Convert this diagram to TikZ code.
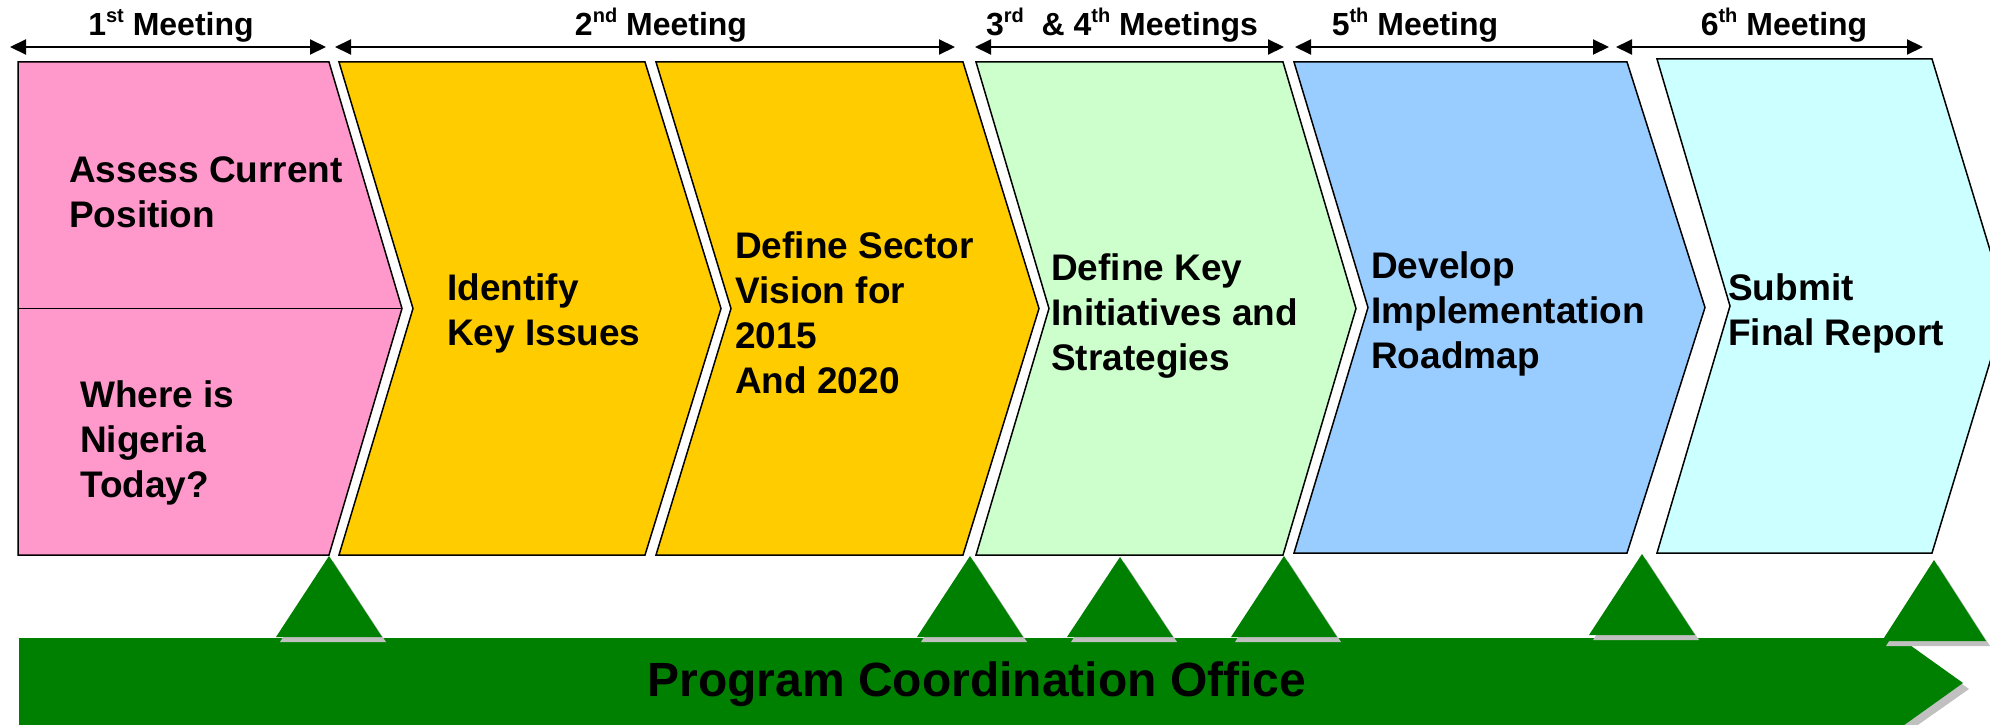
\documentclass[tikz,border=0pt]{standalone}
\usepackage{fontspec}
\setmainfont{Liberation Sans}
\usetikzlibrary{arrows.meta}
\definecolor{cpink}{HTML}{FF99CC}
\definecolor{cyellow}{HTML}{FFCC00}
\definecolor{clgreen}{HTML}{CCFFCC}
\definecolor{cblue}{HTML}{99CCFF}
\definecolor{ccyan}{HTML}{CCFFFF}
\definecolor{cgreen}{HTML}{008000}
\definecolor{cshadow}{HTML}{C0C0C0}
\newcommand\sups[1]{\raisebox{0.42em}{\fontsize{20}{20}\selectfont #1}}
\newcommand\mstone[4]{%
  \fill[cshadow] ({#1+4},{#2+5}) -- ({#1+#4+4},{#3+5}) -- ({#1-#4+4},{#3+5}) -- cycle;
  \fill[cgreen] (#1,#2) -- ({#1+#4},#3) -- ({#1-#4},#3) -- cycle;}
\begin{document}
\begin{tikzpicture}[x=1pt,y=-1pt,
  chev/.style={draw=black,line width=1.5pt,line join=miter},
  boxtext/.style={font=\fontsize{37}{45}\selectfont\bfseries,align=left,inner sep=0pt,anchor=north west},
  hdr/.style={font=\fontsize{32}{38}\selectfont\bfseries,anchor=base,inner sep=0pt},
  span/.style={line width=2pt,{Triangle[length=16pt,width=15pt]}-{Triangle[length=16pt,width=15pt]}},
  bartext/.style={font=\fontsize{48}{58}\selectfont\bfseries,anchor=base,inner sep=0pt}]
\useasboundingbox (0,0) rectangle (1990,725);
\clip (0,0) rectangle (1990,725);
\fill[white] (0,0) rectangle (1990,725);

% header spans
\coordinate (s1a) at (10,47);   \coordinate (s1b) at (326,47);
\coordinate (s2a) at (335,47);  \coordinate (s2b) at (955,47);
\coordinate (s3a) at (975,47);  \coordinate (s3b) at (1284,47);
\coordinate (s4a) at (1295,47); \coordinate (s4b) at (1609,47);
\coordinate (s5a) at (1616,47); \coordinate (s5b) at (1923,47);
\draw[span] (s1a) -- (s1b);
\draw[span] (s2a) -- (s2b);
\draw[span] (s3a) -- (s3b);
\draw[span] (s4a) -- (s4b);
\draw[span] (s5a) -- (s5b);
\node[hdr] (h1) at (171,36) {1\sups{st} Meeting};
\node[hdr] (h2) at (661,36) {2\sups{nd} Meeting};
\node[hdr] (h3) at (1122,36) {3\sups{rd}\ \ \& 4\sups{th} Meetings};
\node[hdr] (h4) at (1415,36) {5\sups{th} Meeting};
\node[hdr] (h5) at (1784,36) {6\sups{th} Meeting};

% chevrons
\draw[chev,fill=cpink] (18,62) -- (329,62) -- (402,308.5) -- (329,555) -- (18,555) -- cycle;
\draw[line width=1.5pt] (18,308.5) -- (401,308.5);
\draw[chev,fill=cyellow] (339,62) -- (645,62) -- (721,308.5) -- (645,555) -- (339,555) -- (413,308.5) -- cycle;
\draw[chev,fill=cyellow] (656,62) -- (963,62) -- (1039,308.5) -- (963,555) -- (656,555) -- (731,308.5) -- cycle;
\draw[chev,fill=clgreen] (976,62) -- (1283,62) -- (1356,308.5) -- (1283,555) -- (976,555) -- (1049,308.5) -- cycle;
\draw[chev,fill=cblue] (1294,62) -- (1627,62) -- (1705,307.5) -- (1627,553) -- (1294,553) -- (1368,307.5) -- cycle;
\draw[chev,fill=ccyan] (1657,59) -- (1932,59) -- (2007,306) -- (1932,553) -- (1657,553) -- (1730,306) -- cycle;

% box texts
\node[boxtext] (t1) at (69,156) {Assess Current\\Position};
\node[boxtext] (t2) at (80,380) {Where is\\Nigeria\\Today?};
\node[boxtext] (t3) at (447,273) {Identify\\Key Issues};
\node[boxtext] (t4) at (735,231) {Define Sector\\Vision for\\2015\\And 2020};
\node[boxtext] (t5) at (1051,253) {Define Key\\Initiatives and\\Strategies};
\node[boxtext] (t6) at (1371,251) {Develop\\Implementation\\Roadmap};
\node[boxtext] (t7) at (1728,273) {Submit\\Final Report};

% coordination bar
\fill[cshadow] (1905,644) -- (1969,689) -- (1905,734) -- cycle;
\fill[cgreen] (19,638) -- (1900,638) -- (1963,683) -- (1900,728) -- (19,728) -- cycle;
\node[bartext] (pco) at (977,696) {Program Coordination Office};

% milestones
\mstone{329}{556}{637}{53}
\mstone{970}{556}{637}{53}
\mstone{1120}{557}{637}{53}
\mstone{1284}{556}{637}{53}
\mstone{1642}{554}{635}{53}
\mstone{1934}{560}{641}{52}
\end{tikzpicture}
\end{document}
